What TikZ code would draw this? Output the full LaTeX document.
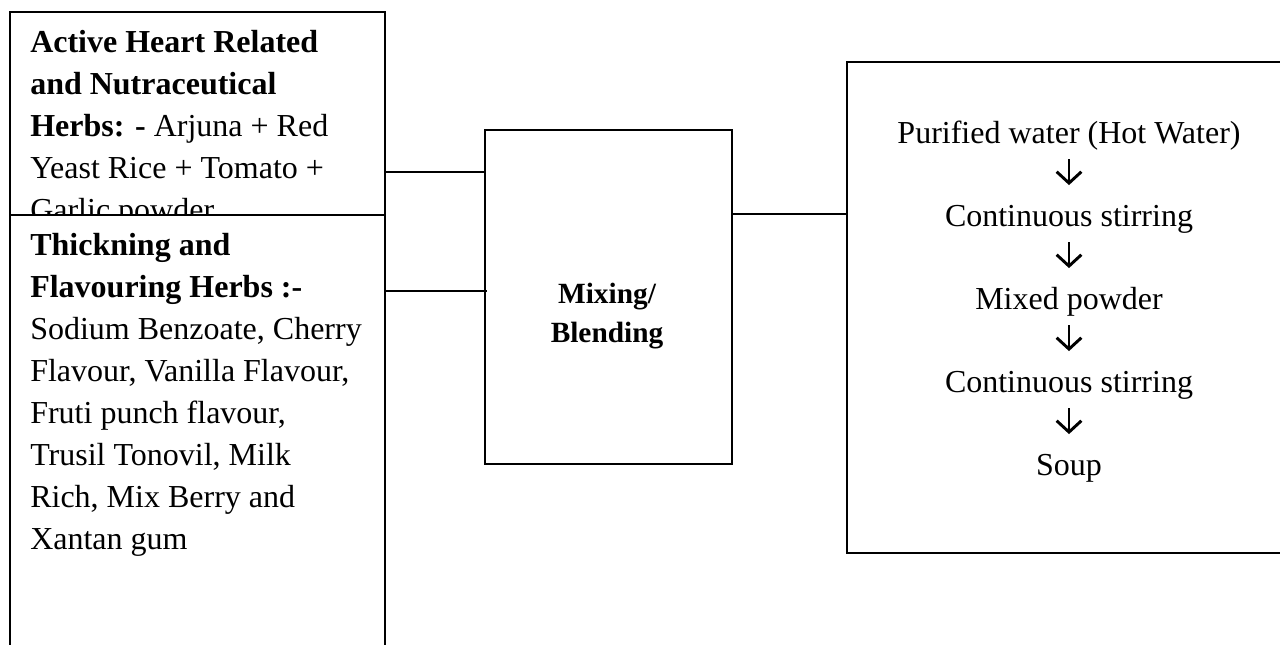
\documentclass[tikz,border=0pt]{standalone}
\usepackage{fontspec}
\usetikzlibrary{arrows.meta}
\setmainfont{Liberation Serif}
\begin{document}
\begin{tikzpicture}[x=0.75pt,y=-0.75pt,
  box/.style={draw=black,line width=1.5pt,rectangle,anchor=north west,inner sep=0pt},
  txt/.style={inner sep=0pt,font=\fontsize{24pt}{31.5pt}\selectfont},
  stepnode/.style={inner sep=0pt,anchor=base,text height=17pt,text depth=5pt,font=\fontsize{24pt}{31pt}\selectfont},
  conn/.style={draw=black,line width=1.5pt},
  flow/.style={draw=black,line width=2.2pt,shorten <=7pt,shorten >=13.5pt,
    -{Straight Barb[length=8.5pt,width=18.5pt,line width=2.2pt]}}]
\useasboundingbox (0,0) rectangle (1280,644);
\clip (0,0) rectangle (1280,644);
% left top box
\node[box,minimum width=281.25pt,minimum height=186.75pt] (hb) at (9,11) {};
\node[txt,anchor=north west,align=left] (hbt) at (30,29.3)
  {\rule{0pt}{17pt}\textbf{Active Heart Related}\\
   \textbf{and Nutraceutical}\\
   \textbf{Herbs: -} Arjuna + Red\\
   Yeast Rice + Tomato +\\
   Garlic powder};
% left bottom box (covers the lower part of the top box)
\node[box,fill=white,minimum width=281.25pt,minimum height=364.5pt] (fb) at (9,214) {};
\node[txt,anchor=north west,align=left] (fbt) at (30,232.3)
  {\rule{0pt}{17pt}\textbf{Thickning and}\\
   \textbf{Flavouring Herbs :-}\\
   Sodium Benzoate, Cherry\\
   Flavour, Vanilla Flavour,\\
   Fruti punch flavour,\\
   Trusil Tonovil, Milk\\
   Rich, Mix Berry and\\
   Xantan gum};
% mixing box
\node[box,minimum width=185.25pt,minimum height=250.5pt] (mx) at (484,129) {};
\node[inner sep=0pt,anchor=north,align=center,font=\fontsize{22pt}{29.25pt}\selectfont\bfseries] (mxt) at (607,281.7)
  {\rule{0pt}{16pt}Mixing/\\Blending};
% right box
\node[box,minimum width=340.5pt,minimum height=368.25pt] (pr) at (846,61) {};
\node[stepnode] (s1) at (1069,143) {Purified water (Hot Water)};
\node[stepnode] (s2) at (1069,226) {Continuous stirring};
\node[stepnode] (s3) at (1069,309) {Mixed powder};
\node[stepnode] (s4) at (1069,392) {Continuous stirring};
\node[stepnode] (s5) at (1069,475) {Soup};
\draw[flow] (s1.south) -- (s2.north);
\draw[flow] (s2.south) -- (s3.north);
\draw[flow] (s3.south) -- (s4.north);
\draw[flow] (s4.south) -- (s5.north);
% connectors
\draw[conn] (hb.east |- 0,172) -- (mx.west |- 0,172);
\draw[conn] (fb.east |- 0,291) -- ([xshift=2pt]mx.west |- 0,291);
\draw[conn] (mx.east |- 0,214) -- (pr.west |- 0,214);
\end{tikzpicture}
\end{document}
